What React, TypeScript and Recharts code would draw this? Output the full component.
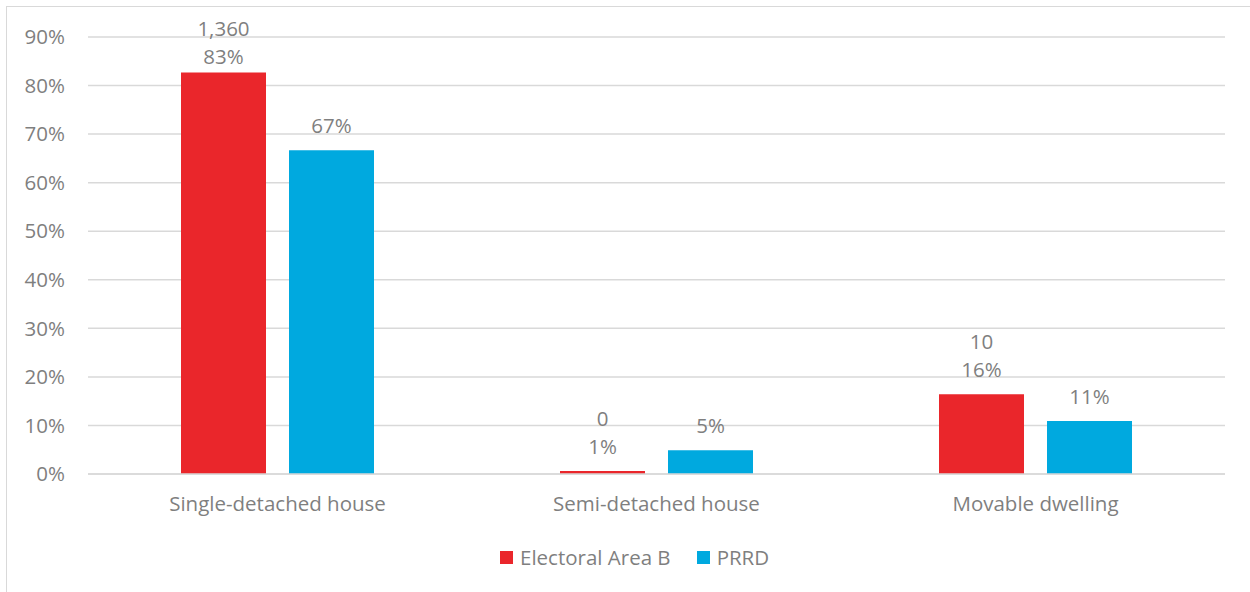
import { BarChart, Bar, XAxis, YAxis, CartesianGrid, LabelList } from 'recharts';

const categories = ['Single-detached house', 'Semi-detached house', 'Movable dwelling'];
const areaBShare = [0.827, 0.006, 0.164];
const prrdShare = [0.667, 0.049, 0.109];
const areaBCounts = ['1,360', '0', '10'];
const yTicks = [0, 0.1, 0.2, 0.3, 0.4, 0.5, 0.6, 0.7, 0.8, 0.9];

const seriesNames = ['Electoral Area B', 'PRRD'];
const RED = '#EA262B';
const BLUE = '#00A9DF';
const TEXT = '#7f7f7f';
const FONT = '"Open Sans", sans-serif';
const FS = 20.5;

const data = categories.map((name, i) => ({
  name,
  areaB: areaBShare[i],
  prrd: prrdShare[i],
  count: areaBCounts[i],
}));

const pct = (v: number) => `${Math.round(v * 100)}%`;

function TwoLineLabel(props: any) {
  const { x, y, width, value, index } = props;
  const cx = x + width / 2;
  const py = Math.max(y - 25, 56);
  return (
    <g>
      <text x={cx} y={py - 28} textAnchor="middle" dominantBaseline="central" fill={TEXT} fontSize={FS} fontFamily={FONT}>
        {areaBCounts[index]}
      </text>
      <text x={cx} y={py} textAnchor="middle" dominantBaseline="central" fill={TEXT} fontSize={FS} fontFamily={FONT}>
        {pct(value)}
      </text>
    </g>
  );
}

function PctLabel(props: any) {
  const { x, y, width, value } = props;
  return (
    <text x={x + width / 2} y={y - 25} textAnchor="middle" dominantBaseline="central" fill={TEXT} fontSize={FS} fontFamily={FONT}>
      {pct(value)}
    </text>
  );
}

export default function App() {
  return (
    <div style={{ position: 'fixed', left: 0, top: 0, width: 1250, height: 592, overflow: 'hidden', background: '#fff' }}>
      <div style={{ position: 'absolute', left: 6, top: 6, width: 1260, height: 600, border: '1.5px solid #d9d9d9' }} />
      <div style={{ position: 'absolute', left: 0, top: 0 }}>
        <BarChart
          width={1250}
          height={592}
          data={data}
          margin={{ top: 37, right: 25, left: 0, bottom: 88 }}
          barCategoryGap={93}
          barGap={23}
        >
          <CartesianGrid vertical={false} stroke="#d9d9d9" strokeWidth={1.5} />
          <XAxis
            dataKey="name"
            axisLine={{ stroke: '#d9d9d9', strokeWidth: 1.5 }}
            tickLine={false}
            tickSize={0}
            tickMargin={22}
            height={30}
            tick={{ fill: TEXT, fontSize: FS, fontFamily: FONT }}
          />
          <YAxis
            domain={[0, 0.9]}
            ticks={yTicks}
            tickFormatter={pct}
            axisLine={false}
            tickLine={false}
            tickSize={0}
            tickMargin={23}
            width={88}
            tick={{ fill: TEXT, fontSize: FS, fontFamily: FONT }}
          />
          <Bar dataKey="areaB" fill={RED} barSize={85} isAnimationActive={false}>
            <LabelList dataKey="areaB" content={TwoLineLabel} />
          </Bar>
          <Bar dataKey="prrd" fill={BLUE} barSize={85} isAnimationActive={false}>
            <LabelList dataKey="prrd" content={PctLabel} />
          </Bar>
        </BarChart>
      </div>
      <div
        style={{
          position: 'absolute',
          left: 500,
          top: 543,
          display: 'flex',
          alignItems: 'center',
          fontFamily: FONT,
          fontSize: FS,
          color: TEXT,
          whiteSpace: 'nowrap',
        }}
      >
        {seriesNames.map((s, i) => (
          <div key={s} style={{ display: 'flex', alignItems: 'center', marginRight: i === 0 ? 26 : 0 }}>
            <span style={{ display: 'inline-block', width: 13, height: 13, background: i === 0 ? RED : BLUE, marginRight: 7 }} />
            <span>{s}</span>
          </div>
        ))}
      </div>
    </div>
  );
}
